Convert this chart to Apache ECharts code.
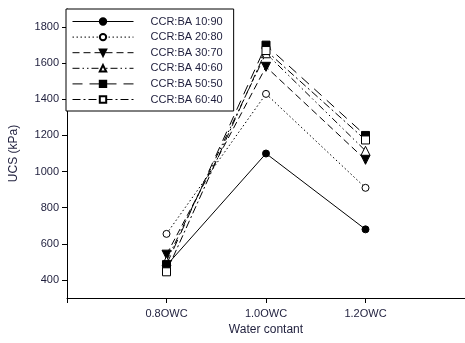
<!DOCTYPE html>
<html><head><meta charset="utf-8">
<script src="https://cdn.jsdelivr.net/npm/echarts@6/dist/echarts.min.js"></script>
<style>html,body{margin:0;padding:0;background:#fff}#c{width:465px;height:343px}</style>
</head><body><div id="c"></div>
<script>
const xValues = [0.8, 1.0, 1.2];
const xTickLabels = ['0.8OWC', '1.0OWC', '1.2OWC'];
const yTickValues = [400, 600, 800, 1000, 1200, 1400, 1600, 1800];
const seriesNames = ['CCR:BA 10:90', 'CCR:BA 20:80', 'CCR:BA 30:70', 'CCR:BA 40:60', 'CCR:BA 50:50', 'CCR:BA 60:40'];
const s1090 = [480, 1100, 680];
const s2080 = [655, 1430, 910];
const s3070 = [540, 1580, 1065];
const s4060 = [505, 1655, 1115];
const s5050 = [485, 1700, 1200];
const s6040 = [445, 1670, 1175];
const seriesValues = [s1090, s2080, s3070, s4060, s5050, s6040];

const styles = [
  {dash: 'solid', symbol: 'circle', fill: '#000', size: 7, rot: 0},
  {dash: [1.5, 2.5], symbol: 'circle', fill: '#fff', size: 7, rot: 0},
  {dash: [7, 4], symbol: 'triangle', fill: '#000', size: 9, rot: 180},
  {dash: [7, 3, 1.5, 3, 1.5, 3], symbol: 'triangle', fill: '#fff', size: 9, rot: 0},
  {dash: [10, 7], symbol: 'rect', fill: '#000', size: 8, rot: 0},
  {dash: [8, 3, 2, 3], symbol: 'rect', fill: '#fff', size: 8, rot: 0}
];

const chart = echarts.init(document.getElementById('c'), null, {renderer: 'canvas'});
const font = 'Liberation Sans, Arial, sans-serif';
chart.setOption({
  animation: false,
  backgroundColor: '#fff',
  textStyle: {fontFamily: font},
  grid: {left: 66, right: -3, top: 9, bottom: 45, containLabel: false},
  legend: {
    left: 66, top: 9, orient: 'vertical',
    backgroundColor: '#fff', borderColor: '#000', borderWidth: 1,
    padding: [7, 11, 6, 6],
    itemWidth: 61, itemHeight: 8, itemGap: 4.6,
    lineStyle: {width: 1},
    textStyle: {fontSize: 11, color: '#1e1e3c', fontFamily: font, padding: [0, 0, 0, 12], lineHeight: 10},
    data: seriesNames
  },
  xAxis: {
    type: 'value', min: 0.6, max: 1.4,
    name: 'Water contant', nameLocation: 'middle', nameGap: 23,
    nameTextStyle: {fontSize: 12, color: '#1e1e3c', fontFamily: font},
    axisLine: {show: true, lineStyle: {color: '#000', width: 1}},
    axisTick: {show: true, length: 5, lineStyle: {color: '#000'}, customValues: [0.6].concat(xValues)},
    axisLabel: {fontSize: 11, color: '#1e1e3c', margin: 10, customValues: xValues,
      formatter: v => { const i = xValues.findIndex(x => Math.abs(x - v) < 1e-6); return i >= 0 ? xTickLabels[i] : ''; }},
    splitLine: {show: false}
  },
  yAxis: {
    type: 'value', min: 300, max: 1900,
    name: 'UCS (kPa)', nameLocation: 'middle', nameGap: 47,
    nameTextStyle: {fontSize: 12, color: '#1e1e3c', fontFamily: font},
    axisLine: {show: true, lineStyle: {color: '#000', width: 1}},
    axisTick: {show: true, length: 5, lineStyle: {color: '#000'}, customValues: yTickValues},
    axisLabel: {fontSize: 11, color: '#1e1e3c', margin: 8, customValues: yTickValues, formatter: v => String(v)},
    splitLine: {show: false}
  },
  series: seriesNames.map((n, i) => ({
    name: n, type: 'line', z: 2 + i,
    data: xValues.map((x, j) => [x, seriesValues[i][j]]),
    symbol: styles[i].symbol, symbolSize: styles[i].size, symbolRotate: styles[i].rot,
    showAllSymbol: true,
    lineStyle: {color: '#000', width: 1, type: styles[i].dash},
    itemStyle: {color: styles[i].fill, borderColor: '#000', borderWidth: 1},
    emphasis: {disabled: true}
  }))
});
</script></body></html>
